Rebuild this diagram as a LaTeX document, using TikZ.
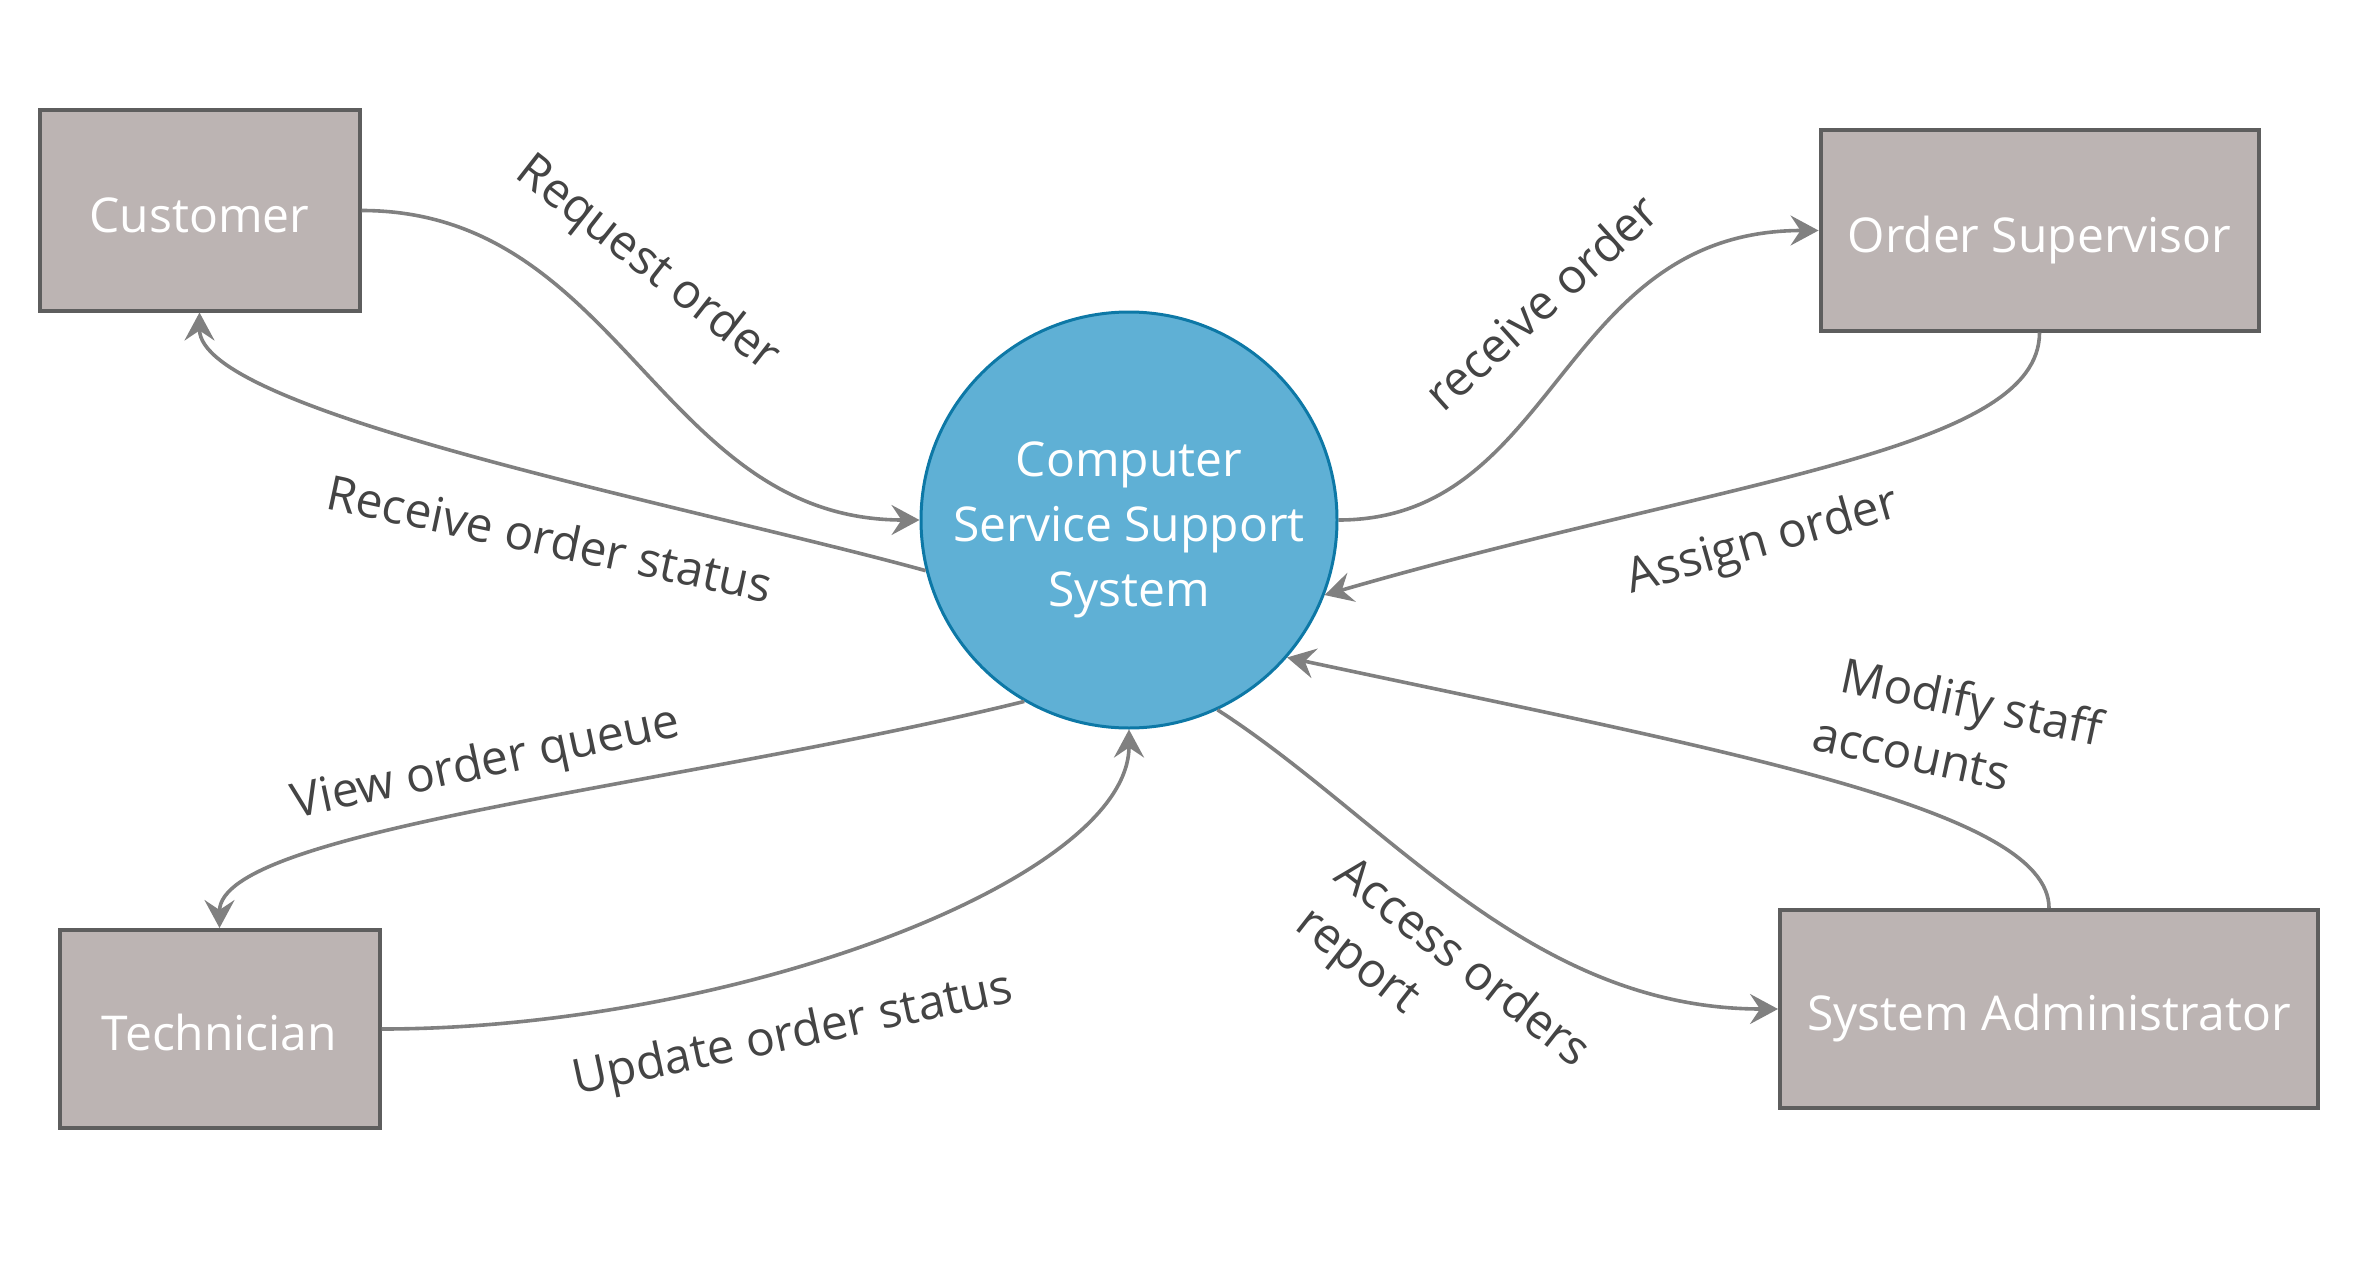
\documentclass[tikz,border=0pt]{standalone}
\usepackage{fontspec}
\setmainfont{Open Sans}
\usetikzlibrary{arrows.meta}
\definecolor{boxfill}{RGB}{188,180,179}
\definecolor{boxline}{RGB}{94,94,94}
\definecolor{circfill}{RGB}{95,176,213}
\definecolor{circline}{RGB}{13,120,166}
\definecolor{flowcol}{RGB}{128,128,128}
\definecolor{lblcol}{RGB}{68,68,68}
\tikzset{
  entity/.style={draw=boxline, fill=boxfill, line width=2pt, text=white,
    font=\fontsize{24}{32}\selectfont, inner sep=0pt,
    text height=21.5pt, text depth=0pt},
  process/.style={circle, draw=circline, fill=circfill, line width=1.5pt,
    text=white, minimum size=208pt, align=center, inner sep=0pt,
    font=\fontsize{24}{32.5}\selectfont},
  flow/.style={draw=flowcol, line width=1.8pt,
    -{Stealth[length=14pt, width=15pt, inset=5pt]}},
  lbl/.style={text=lblcol, font=\fontsize{24}{31.5}\selectfont, inner sep=0pt, align=left}
}
\begin{document}
\begin{tikzpicture}[x=0.5pt, y=-0.5pt]
\path[use as bounding box, fill=white] (0,0) rectangle (2360,1268);

\node[entity, minimum width=160pt, minimum height=100pt] (cust) at (199.5,210.5) {Customer};
\node[entity, minimum width=219pt, minimum height=100pt] (os) at (2039.5,230.5) {Order Supervisor};
\node[entity, minimum width=160pt, minimum height=99pt] (tech) at (219.5,1029) {Technician};
\node[entity, minimum width=269pt, minimum height=99pt] (sa) at (2049,1009) {System Administrator};
\node[process] (sys) at (1129,520) {\rule{0pt}{27pt}Computer\\Service Support\\System};

\draw[flow] (cust.east) .. controls +(260,0) and +(-260,0) .. (sys.west);
\draw[flow] (sys.194) .. controls +(-240,-66) and +(0,100) .. (cust.south);
\draw[flow] (sys.east) .. controls +(220,0) and +(-260,0) .. (os.west);
\draw[flow] (os.south) .. controls +(0,120) and +(400,-116) .. (sys.-21);
\draw[flow] (sa.north) .. controls +(0,-100) and +(430,92) .. (sys.-41);
\draw[flow] (sys.-65) .. controls +(168,108) and +(-250,0) .. (sa.west);
\draw[flow] (sys.-120) .. controls +(-340,84) and +(0,-99) .. (tech.north);
\draw[flow] (tech.east) .. controls +(350,0) and +(0,150) .. (sys.south);

\node[lbl, rotate=-38] (l1) at (647,265) {Request order};
\node[lbl, rotate=-12] (l2) at (550,538) {Receive order status};
\node[lbl, rotate=42] (l3) at (1541,302) {receive order};
\node[lbl, rotate=16] (l4) at (1763,543) {Assign order};
\node[lbl, rotate=-12] (l5) at (1966,732) {Modify staff\\\hspace*{-8pt}accounts};
\node[lbl, rotate=-38] (l6) at (1442,989) {Access orders\\report};
\node[lbl, rotate=12] (l7) at (486,765) {View order queue};
\node[lbl, rotate=12] (l8) at (793,1036) {Update order status};
\end{tikzpicture}
\end{document}
